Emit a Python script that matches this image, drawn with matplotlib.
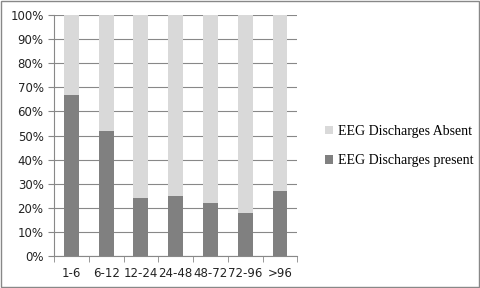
import matplotlib.pyplot as plt
import numpy as np

categories = ['1-6', '6-12', '12-24', '24-48', '48-72', '72-96', '>96']
present = [67, 52, 24, 25, 22, 18, 27]
absent = [100 - p for p in present]

fig = plt.figure(figsize=(4.8, 2.88), dpi=100)
ax = fig.add_axes([0.1125, 0.111, 0.507, 0.837])
x = np.arange(len(categories))
ax.bar(x, present, width=0.43, color='#808080', label='EEG Discharges present', zorder=3)
ax.bar(x, absent, width=0.43, bottom=present, color='#d9d9d9', label='EEG Discharges Absent', zorder=3)

ax.set_xlim(-0.5, len(categories) - 0.5)
ax.set_ylim(0, 100)
ax.set_yticks(range(0, 101, 10))
ax.set_yticklabels([f'{v}%' for v in range(0, 101, 10)], fontsize=8.5, color='#222222')
ax.set_xticks(x)
ax.set_xticklabels(categories, fontsize=8.5, color='#222222')
ax.set_xticks(np.arange(-0.5, len(categories)), minor=True)
ax.tick_params(axis='x', which='major', length=0, pad=8)
ax.tick_params(axis='x', which='minor', length=4, color='#888888')
ax.tick_params(axis='y', length=4, color='#888888')
ax.grid(axis='y', color='#888888', linewidth=0.8, zorder=0)
for s in ['top', 'right']:
    ax.spines[s].set_visible(False)
ax.spines['left'].set_color('#888888')
ax.spines['bottom'].set_color('#888888')

h, l = ax.get_legend_handles_labels()
fig.legend(h[::-1], l[::-1], loc='upper left', bbox_to_anchor=(0.65, 0.61), frameon=False,
           prop={'family': 'Liberation Serif', 'size': 10}, handlelength=0.6, handleheight=0.6,
           handletextpad=0.4, labelspacing=1.2)

fig.patches.append(plt.Rectangle((0.002, 0.003), 0.995, 0.994, transform=fig.transFigure,
                                 fill=False, edgecolor='#888888', linewidth=1))
fig.savefig('out.png', dpi=100)
